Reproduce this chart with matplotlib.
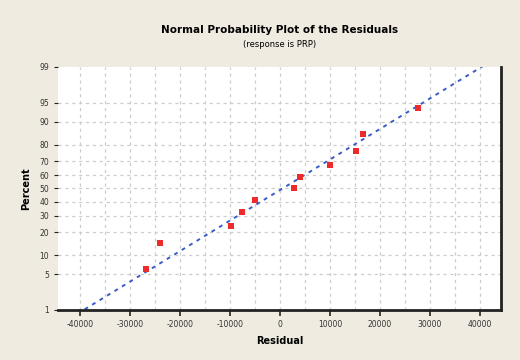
from statistics import NormalDist
import numpy as np
from matplotlib import pyplot as plt

# sorted residuals and their plotting percents
residuals = [-26800, -23900, -9700, -7500, -5000, 2800, 3900, 9900, 15200, 16500, 27500]
percents = [6.1, 14.9, 23.7, 32.5, 41.2, 50.0, 58.8, 67.5, 76.3, 85.1, 93.9]
# fitted normal line
line_mean = 500
line_sd = 17100
y_ticks = [1, 5, 10, 20, 30, 40, 50, 60, 70, 80, 90, 95, 99]
x_ticks = [-40000, -30000, -20000, -10000, 0, 10000, 20000, 30000, 40000]

nd = NormalDist()
def z(p):
    return nd.inv_cdf(p / 100)

bg = '#efebe1'
fig = plt.figure(figsize=(5.2, 3.6), dpi=100, facecolor=bg)
ax = fig.add_axes([0.1115, 0.1389, 0.852, 0.675])
ax.set_facecolor('white')

xlim = (-44400, 44200)
ylim = (z(1), z(99))
ax.set_xlim(*xlim)
ax.set_ylim(*ylim)

# grid
for g in np.arange(-40000, 40001, 5000):
    ax.axvline(g, color='#cccccc', lw=0.9, ls=(0, (2.5, 3)), zorder=1)
for p in y_ticks[1:-1]:
    ax.axhline(z(p), color='#cccccc', lw=0.9, ls=(0, (2.5, 3)), zorder=1)

# fitted line across the probability range
lp = np.array([0.5, 99.5])
lz = np.array([z(p) for p in lp])
ax.plot(line_mean + line_sd * lz, lz, color='#3a5cc8', lw=1.4,
        ls=(0, (2, 2.5)), zorder=2)

ax.scatter(residuals, [z(p) for p in percents], marker='s', s=22,
           color='#ee2a2a', zorder=3, linewidths=0)

ax.set_yticks([z(p) for p in y_ticks])
ax.set_yticklabels([str(p) for p in y_ticks])
ax.set_xticks(x_ticks)
ax.set_xticklabels([str(x) for x in x_ticks])
ax.tick_params(labelsize=5.5, length=4, width=1.2, color='#222222',
               labelcolor='#333333')
ax.tick_params(axis='y', length=3, width=0.8)

for s in ['top', 'left']:
    ax.spines[s].set_visible(False)
for s in ['bottom', 'right']:
    ax.spines[s].set_linewidth(2)
    ax.spines[s].set_color('#222222')

ax.set_xlabel('Residual', fontsize=7, fontweight='bold', labelpad=5)
ax.set_ylabel('Percent', fontsize=7, fontweight='bold', labelpad=6)

fig.text(0.537, 0.918, 'Normal Probability Plot of the Residuals',
         ha='center', va='center', fontsize=7.5, fontweight='bold')
fig.text(0.537, 0.876, '(response is PRP)', ha='center', va='center',
         fontsize=6)

fig.savefig('out.png', facecolor=bg)
